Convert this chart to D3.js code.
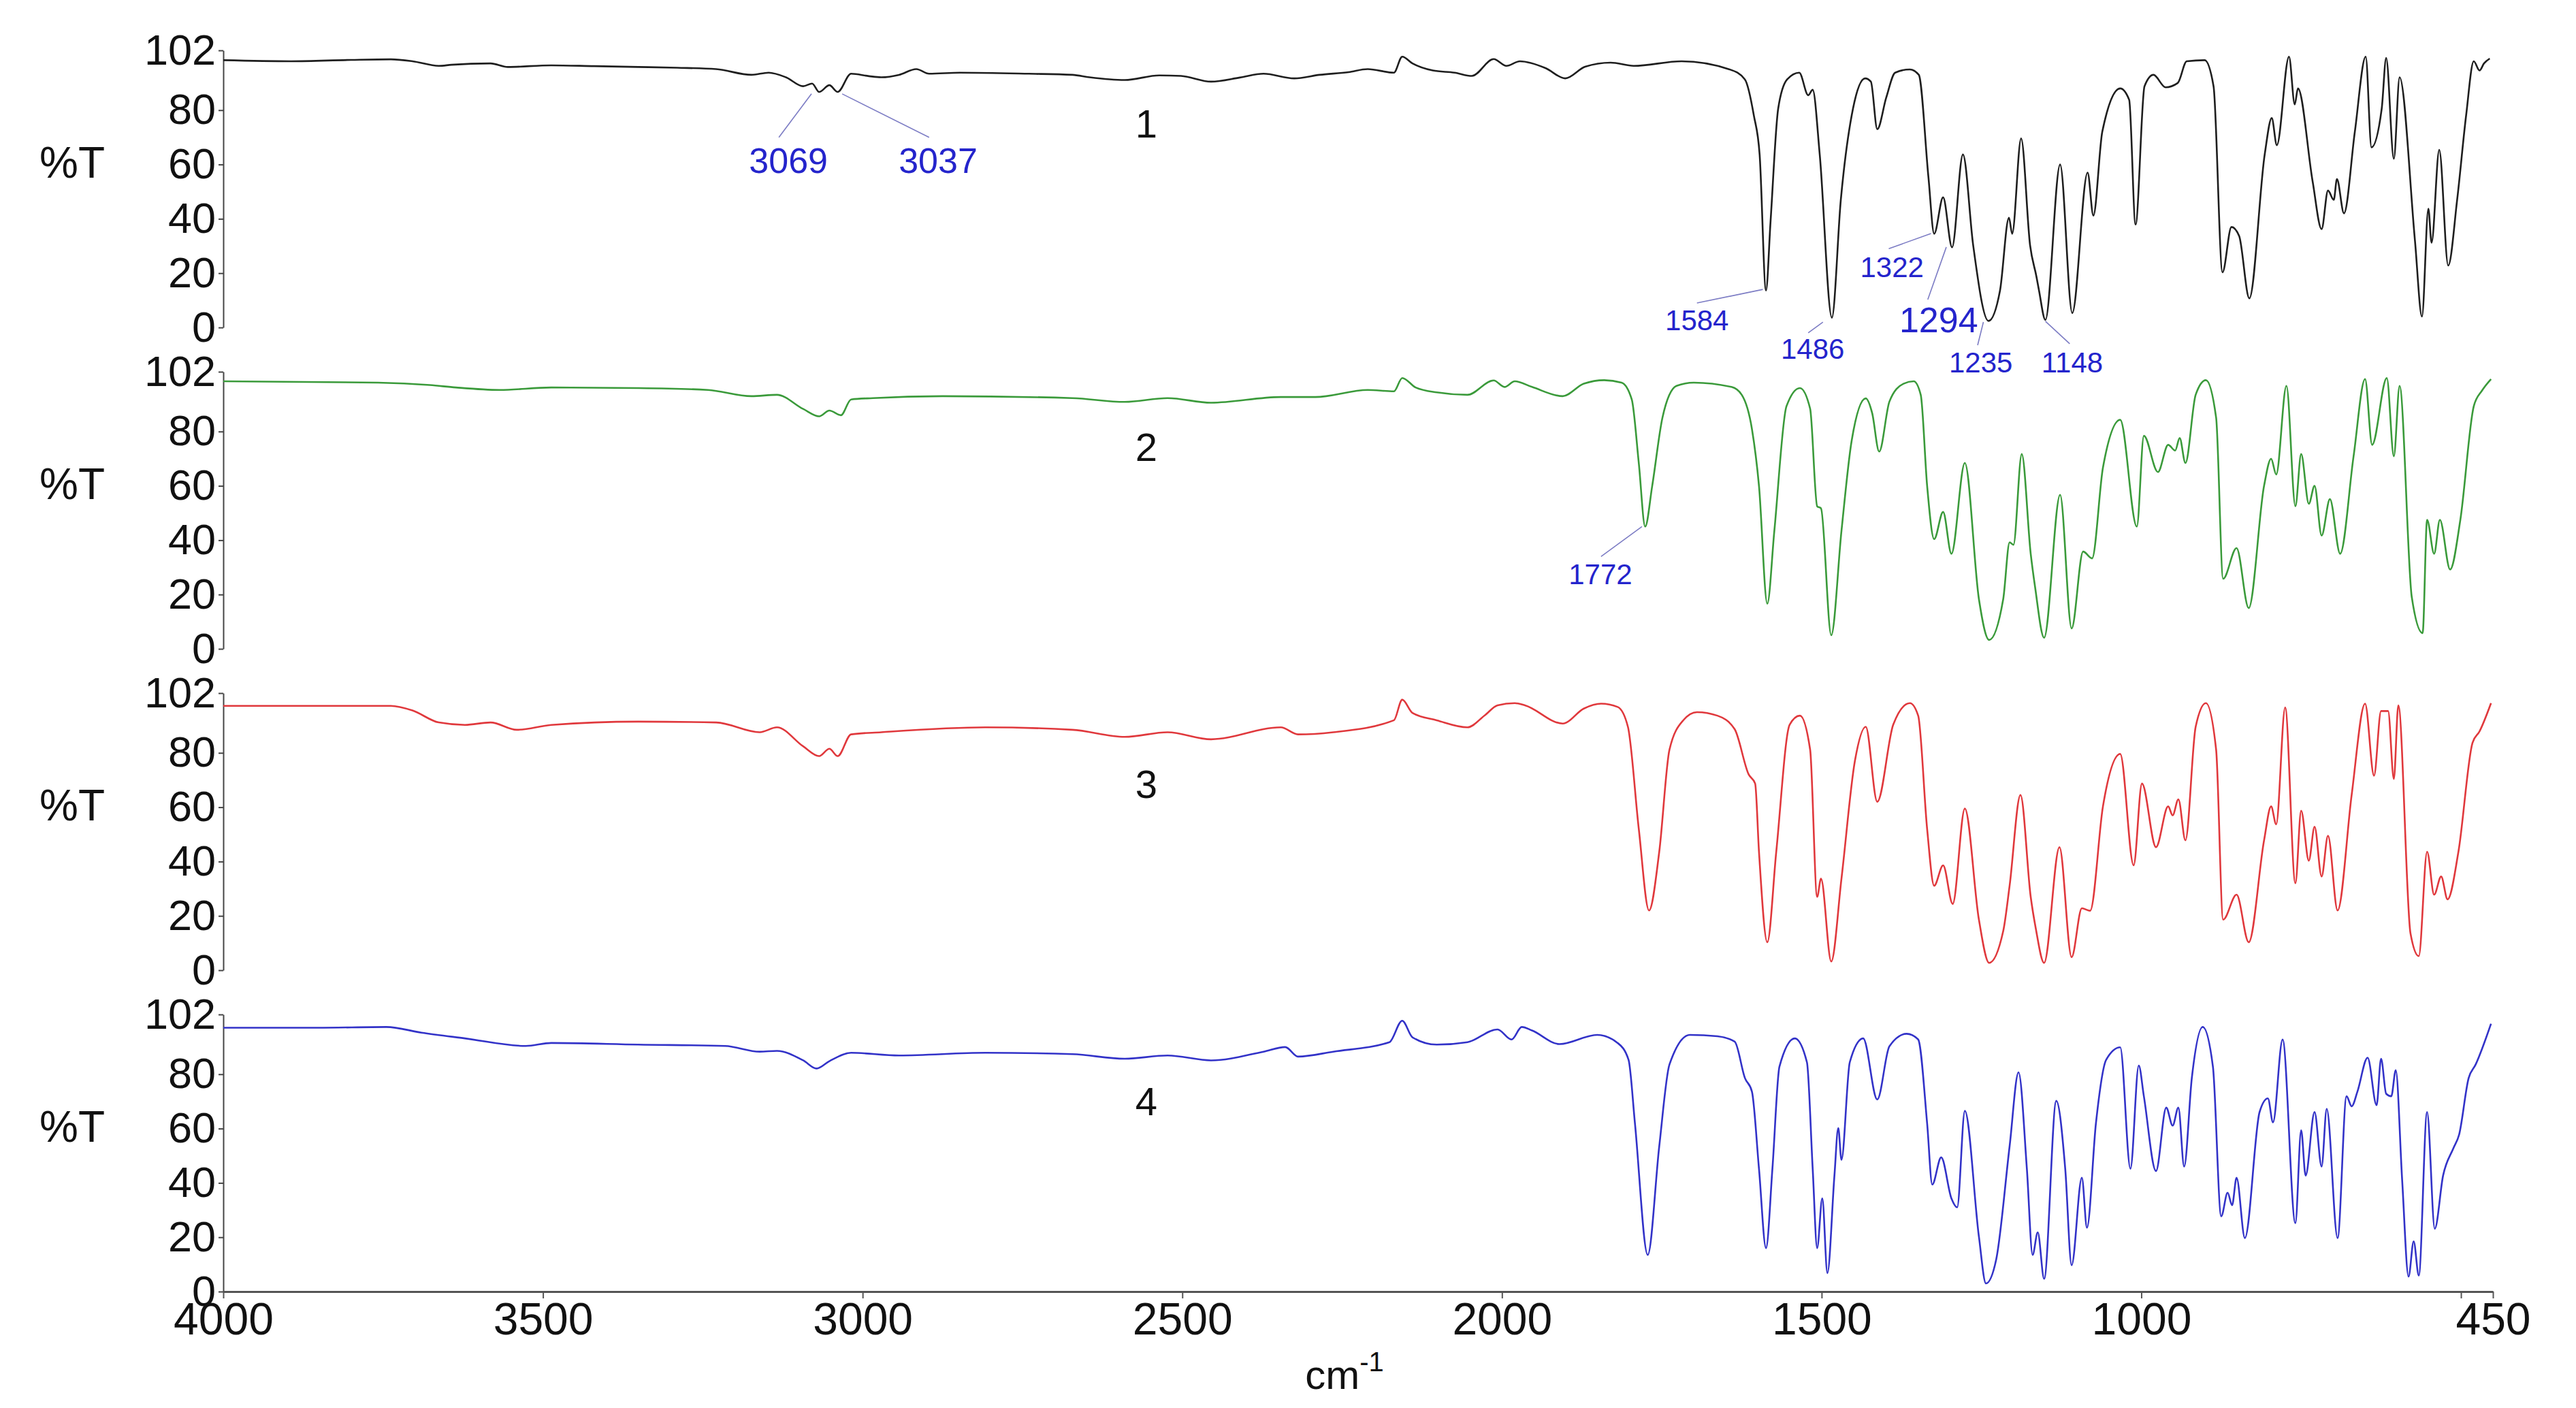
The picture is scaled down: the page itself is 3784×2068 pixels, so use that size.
<!DOCTYPE html>
<html>
<head>
<meta charset="utf-8">
<script src="https://cdn.jsdelivr.net/npm/d3@7"></script>
<style>
  body { margin: 0; background: #fff; }
  text { font-family: "Liberation Sans", Arial, sans-serif; }
</style>
</head>
<body>
<div id="chart"></div>
<script>
// spectra as [wavenumber (cm-1), %T]
var spectrum1 = [[4000,98.4],[3894,98],[3800,98.5],[3738,98.7],[3704,98],[3663,96.3],[3643,96.7],[3582,97.2],[3555,95.9],[3487,96.5],[3420,96.2],[3351,95.9],[3290,95.6],[3229,95.1],[3174,93],[3147,93.8],[3120,92.1],[3093,88.8],[3079,89.8],[3068,86.7],[3052,89.2],[3039,86.7],[3018,93.4],[2990,92.5],[2971,92.1],[2943,93],[2916,95.1],[2896,93.4],[2848,93.8],[2740,93.4],[2672,93],[2645,92.1],[2590,91.1],[2536,92.8],[2502,92.6],[2455,90.5],[2410,92],[2373,93.4],[2325,91.7],[2285,93],[2240,94],[2210,95.1],[2169,93.8],[2156,99.7],[2140,97.2],[2108,94.6],[2074,93.8],[2047,92.6],[2013,98.8],[1993,96.3],[1972,98],[1932,95.5],[1901,91.7],[1870,96],[1830,97.5],[1794,96.3],[1719,98],[1644,95],[1620,91.3],[1606,78],[1597,63.7],[1587,13.6],[1580,38.7],[1568,80.5],[1554,91.3],[1535,93.8],[1521,85.5],[1514,87.5],[1503,63.7],[1484,3.6],[1470,47],[1451,80.5],[1432,91.7],[1423,90.5],[1413,73],[1399,84.6],[1385,93.8],[1362,95],[1348,93],[1333,55.4],[1324,34.5],[1310,47.9],[1296,29.5],[1279,63.7],[1263,30.3],[1239,2.4],[1221,13.6],[1207,40.4],[1202,34.5],[1188,69.6],[1174,30.3],[1164,18.7],[1160,13.6],[1150,2.8],[1127,60],[1108,5.3],[1084,57],[1075,41.2],[1061,72.1],[1033,88],[1019,83.8],[1009,37.9],[995,88.8],[981,93],[962,88.4],[943,90],[929,98],[901,98.4],[887,88.8],[873,20.3],[859,37],[847,33.7],[831,10.7],[807,63.7],[796,77.1],[788,67.1],[769,99.7],[760,82.1],[755,88],[732,53.7],[718,36.2],[708,50.4],[699,47],[694,54.6],[683,42],[666,72.1],[649,99.7],[640,66.3],[624,80.5],[617,99.2],[605,62.1],[596,92.1],[572,32],[561,4],[551,43.7],[546,31.2],[534,65.4],[520,22.8],[506,47],[492,78],[480,98],[471,94.6],[464,97.2],[455,99]];

var spectrum2 = [[4000,98.5],[3758,98],[3677,97.1],[3636,96.2],[3568,95.3],[3487,96.2],[3350,96],[3242,95.3],[3174,93],[3134,93.5],[3093,88.3],[3068,85.6],[3052,87.7],[3034,86],[3018,91.8],[2984,92.3],[2875,93],[2672,92.3],[2590,90.9],[2523,92.3],[2455,90.6],[2346,92.7],[2292,92.7],[2210,95.3],[2169,94.8],[2156,99.7],[2135,96.2],[2102,94.4],[2054,93.5],[2013,98.8],[1996,96.4],[1980,98.5],[1953,96.4],[1905,93],[1872,97.6],[1840,98.9],[1813,98],[1797,91.8],[1786,68.4],[1776,45],[1765,60],[1749,85.1],[1727,96.8],[1700,98],[1641,96.4],[1625,93.5],[1609,80.9],[1598,60],[1585,16.6],[1574,43.4],[1555,89.3],[1534,96],[1518,88.4],[1507,52.5],[1501,51.7],[1485,5],[1469,43.4],[1453,76.7],[1431,92.2],[1421,86.8],[1410,72.6],[1394,91],[1372,97.6],[1356,98.5],[1345,93.5],[1335,60],[1324,40.4],[1310,50.4],[1297,35],[1276,68.4],[1254,18.3],[1238,3.3],[1216,18.3],[1206,39.2],[1200,38.3],[1187,71.7],[1173,35],[1166,22.5],[1152,4.1],[1127,56.7],[1109,7.5],[1091,35.8],[1077,33.3],[1060,66.7],[1033,84.3],[1007,45],[996,78.4],[974,65.1],[958,75.1],[947,73],[940,77.6],[931,68.4],[915,93.5],[899,98.9],[883,85.1],[872,25.8],[851,37.1],[832,15],[808,60],[797,70],[789,64.2],[773,96.8],[759,52.5],[750,71.7],[738,53.4],[729,60],[718,41.7],[705,55.1],[689,35],[668,70.9],[650,99.3],[639,75.1],[616,99.7],[605,70.9],[596,96.8],[577,19.1],[560,5.8],[553,47.5],[542,35],[533,47.5],[517,29.2],[501,47.5],[480,89.3],[467,95.1],[453,99.3]];

var spectrum3 = [[4000,97.3],[3894,97.3],[3738,97.3],[3704,95.6],[3663,91.2],[3622,90.3],[3582,91.2],[3541,88.5],[3487,90.3],[3351,91.5],[3229,91.2],[3161,87.6],[3134,89.4],[3093,82.4],[3068,78.8],[3052,81.5],[3039,78.8],[3018,86.8],[2971,87.6],[2808,89.4],[2672,88.5],[2590,85.9],[2523,87.6],[2455,85],[2346,89.4],[2319,86.8],[2264,87.6],[2169,92],[2156,99.6],[2140,94.7],[2102,92],[2054,89.4],[2027,93.8],[2007,97.5],[1980,98.3],[1964,97.5],[1905,90.8],[1872,96.3],[1845,98.1],[1819,96.9],[1803,89.6],[1786,52],[1770,22],[1754,43.6],[1738,81.2],[1716,92.1],[1695,95],[1663,93.7],[1636,88.7],[1614,72],[1604,68.7],[1598,43.6],[1585,10.3],[1571,43.6],[1550,90.4],[1534,93.7],[1518,81.2],[1507,27],[1501,33.7],[1485,3.2],[1469,33.7],[1448,77],[1431,89.6],[1413,62],[1388,90.4],[1362,98.3],[1349,93.7],[1335,52],[1324,31.1],[1310,38.6],[1295,24.4],[1276,59.5],[1254,18.6],[1238,2.7],[1216,14.4],[1206,31.1],[1189,64.5],[1173,27],[1165,15.3],[1152,2.7],[1128,45.3],[1109,4.8],[1093,22.8],[1080,21.9],[1060,60.3],[1033,79.6],[1012,38.6],[999,68.7],[977,45.3],[958,60.3],[951,57],[942,62.9],[931,47.8],[915,89.6],[899,98.3],[883,81.2],[872,18.6],[851,27.8],[832,10.3],[808,47.8],[797,60.3],[789,53.7],[775,96.7],[759,32],[750,58.7],[738,40.3],[729,52.8],[718,34.5],[708,49.5],[693,22],[671,64.5],[650,98.1],[636,71.6],[625,95.4],[614,95.4],[605,70.4],[598,97.5],[579,13.6],[566,5.2],[553,43.6],[542,27.8],[531,34.5],[521,26.1],[504,43.6],[482,83.7],[471,87.9],[453,98.3]];

var spectrum4 = [[4000,97.1],[3853,97.1],[3745,97.4],[3690,95.3],[3622,93.2],[3527,90.4],[3487,91.5],[3351,90.9],[3215,90.4],[3161,88.3],[3134,88.6],[3093,85.1],[3072,82.1],[3052,84.8],[3018,87.9],[2943,86.9],[2808,87.9],[2672,87.4],[2590,85.7],[2523,86.9],[2455,85.1],[2373,88.3],[2339,90],[2319,86.5],[2264,88.3],[2176,91.8],[2156,99.7],[2140,93.6],[2102,90.9],[2054,91.8],[2007,96.5],[1985,92.8],[1969,97.4],[1953,96.1],[1910,91.1],[1851,94.5],[1819,91.5],[1802,85.3],[1792,61.9],[1772,13.5],[1754,53.5],[1738,83.6],[1706,94.5],[1663,94],[1636,92],[1620,78.6],[1609,73.6],[1598,45.2],[1587,16],[1577,45.2],[1566,82.8],[1542,93.2],[1523,84.4],[1514,45.2],[1507,16],[1499,34.3],[1491,6.8],[1480,42.7],[1474,60.2],[1469,48.5],[1456,84.4],[1435,93.2],[1413,70.7],[1394,90.3],[1367,94.9],[1349,92.8],[1335,61.9],[1327,39.4],[1313,49.4],[1297,34.3],[1288,31],[1276,66.5],[1254,20.2],[1243,3],[1227,11.8],[1206,53.5],[1192,80.7],[1179,45.2],[1170,13.5],[1162,21.8],[1152,4.7],[1133,70.2],[1119,45.2],[1109,9.7],[1093,41.9],[1085,23.5],[1071,61.9],[1055,85.3],[1033,89.9],[1017,45.2],[1004,83.2],[996,71.9],[977,44.4],[961,67.7],[951,61.1],[942,67.7],[933,46],[921,78.6],[904,97.4],[888,82.8],[875,27.7],[865,36.4],[858,31.8],[851,41.9],[838,19.7],[815,66.1],[802,71.1],[794,62.3],[779,92.8],[759,25.2],[750,59.4],[743,42.7],[729,66.1],[718,46],[710,67.3],[693,19.7],[679,71.9],[671,68.2],[662,73.6],[646,86.1],[632,68.6],[625,85.7],[617,72.8],[609,71.9],[602,81.5],[592,41],[582,5.5],[574,18.5],[566,5.9],[553,66.1],[541,23.1],[528,42.7],[512,52.7],[503,57.7],[488,78.6],[477,83.6],[453,98.6]];

var spectra = [spectrum1, spectrum2, spectrum3, spectrum4];
var sampleNames = ["1", "2", "3", "4"];
var lineColors = ["#1e1e1e", "#3a9a3a", "#e0383c", "#3232c8"];

var yTicks = [0, 20, 40, 60, 80, 102];
var xTicks = [4000, 3500, 3000, 2500, 2000, 1500, 1000, 500, 450];
var xTickLabels = ["4000", "3500", "3000", "2500", "2000", "1500", "1000", "", "450"];

// peak labels: text, panel, label position (wavenumber, %T), leader line from/to (wavenumber, %T), font size
var peakLabels = [
  ["3069", 0, 3116, 57, [3131, 70], [3080, 86], 52],
  ["3037", 0, 2882, 57, [2896, 70], [3032, 86], 52],
  ["1584", 0, 1695, -1, [1695, 9], [1592, 14], 42],
  ["1486", 0, 1514, -11.5, [1521, -2], [1498, 2], 42],
  ["1322", 0, 1390, 18.5, [1395, 29], [1329, 34.6], 42],
  ["1294", 0, 1317, -1.8, [1334, 10.3], [1305, 29.6], 52],
  ["1235", 0, 1251, -16.5, [1256, -6.5], [1247, 2], 42],
  ["1148", 0, 1108, -16.5, [1112, -6], [1150, 2.3], 42],
  ["1772", 1, 1846, 23.8, [1845, 34], [1781, 45], 42]
];

// set the dimensions of the figure
var width = 3784,
    height = 2068,
    panelTop = 74,
    panelStep = 472,
    panelHeight = 407;

var svg = d3.select("#chart").append("svg")
    .attr("width", width)
    .attr("height", height)
    .style("background", "#fff");

// set the ranges
var x = d3.scaleLinear().domain([4000, 450]).range([328, 3662]);

var valueline = function(y) {
  return d3.line()
      .x(function(d) { return x(d[0]); })
      .y(function(d) { return y(d[1]); })
      .curve(d3.curveMonotoneX);
};

spectra.forEach(function(data, i) {
  var top = panelTop + i * panelStep;
  var y = d3.scaleLinear().domain([0, 102]).range([top + panelHeight, top]);

  // y axis
  var ya = svg.append("g")
      .attr("transform", "translate(" + x(4000) + ",0)")
      .call(d3.axisLeft(y).tickValues(yTicks).tickSize(7).tickSizeOuter(0).tickPadding(4));
  ya.select(".domain").attr("stroke", "#444").attr("stroke-width", 2);
  ya.selectAll(".tick line").attr("stroke", "#444").attr("stroke-width", 2);
  ya.selectAll(".tick text")
      .attr("font-size", 63)
      .attr("font-family", "Liberation Sans, Arial, sans-serif")
      .attr("fill", "#111");

  // %T label
  svg.append("text")
      .attr("x", 58)
      .attr("y", y(61))
      .attr("dy", "0.36em")
      .attr("font-size", 64)
      .attr("fill", "#111")
      .text("%T");

  // sample number
  svg.append("text")
      .attr("x", 1684)
      .attr("y", [202, 677, 1172, 1638][i])
      .attr("text-anchor", "middle")
      .attr("font-size", 58)
      .attr("fill", "#111")
      .text(sampleNames[i]);

  // the spectrum
  svg.append("path")
      .datum(data)
      .attr("d", valueline(y))
      .style("stroke", lineColors[i])
      .style("stroke-width", 2.6)
      .style("fill", "none");

  // peak labels of this panel
  peakLabels.filter(function(p) { return p[1] === i; }).forEach(function(p) {
    svg.append("line")
        .attr("x1", x(p[4][0])).attr("y1", y(p[4][1]))
        .attr("x2", x(p[5][0])).attr("y2", y(p[5][1]))
        .attr("stroke", "#7c7cc4")
        .attr("stroke-width", 1.6);
    svg.append("text")
        .attr("x", x(p[2]))
        .attr("y", y(p[3]))
        .attr("text-anchor", "middle")
        .attr("font-size", p[6])
        .attr("fill", "#2424cc")
        .text(p[0]);
  });
});

// x axis under the last panel
var bottom = panelTop + 3 * panelStep + panelHeight;
var xa = svg.append("g")
    .attr("transform", "translate(0," + bottom + ")")
    .call(d3.axisBottom(x).tickValues(xTicks).tickSize(10).tickSizeOuter(0).tickPadding(6)
      .tickFormat(function(d, i) { return xTickLabels[i]; }));
xa.select(".domain").attr("stroke", "#555").attr("stroke-width", 3);
xa.selectAll(".tick line").attr("stroke", "#555").attr("stroke-width", 2);
xa.selectAll(".tick text")
    .attr("font-size", 66)
    .attr("font-family", "Liberation Sans, Arial, sans-serif")
    .attr("fill", "#111");

var unit = svg.append("text")
    .attr("x", 1975)
    .attr("y", 2040)
    .attr("text-anchor", "middle")
    .attr("font-size", 60)
    .attr("fill", "#111");
unit.append("tspan").text("cm");
unit.append("tspan").attr("font-size", 40).attr("dy", -26).text("-1");
</script>
</body>
</html>
